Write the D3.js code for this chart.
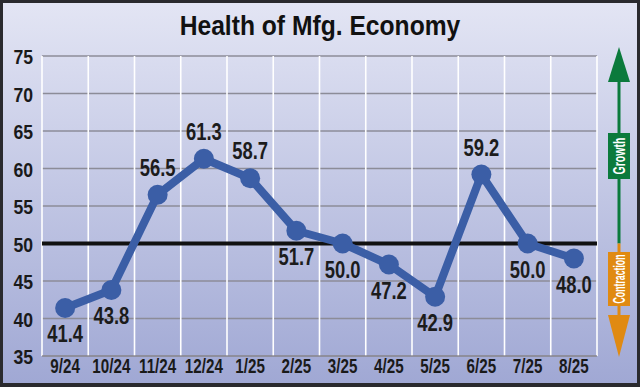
<!DOCTYPE html>
<html><head><meta charset="utf-8">
<script src="https://cdn.jsdelivr.net/npm/d3@7"></script>
<style>
body{margin:0;padding:0;overflow:hidden;}
text{font-family:"Liberation Sans",Arial,sans-serif;font-weight:bold;}
</style></head>
<body><svg id="c" width="640" height="387"></svg>
<script>
const categories = ["9/24","10/24","11/24","12/24","1/25","2/25","3/25","4/25","5/25","6/25","7/25","8/25"];
const values = [41.4,43.8,56.5,61.3,58.7,51.7,50.0,47.2,42.9,59.2,50.0,48.0];
const labelPos = ["below","below","above","above","above","below","below","below","below","above","below","below"];
const yTicks = [35,40,45,50,55,60,65,70,75];
const title = "Health of Mfg. Economy";

function condense(sel,k){
  sel.each(function(){
    const L=this.getComputedTextLength();
    this.setAttribute("textLength",(L*k).toFixed(2));
    this.setAttribute("lengthAdjust","spacingAndGlyphs");
  });
}

const svg = d3.select("#c");
const W=640,H=387;
const defs = svg.append("defs");
const g = defs.append("linearGradient").attr("id","bg").attr("x1",0).attr("y1",0).attr("x2",0).attr("y2",1);
g.append("stop").attr("offset","0%").attr("stop-color","#e3e5f4");
g.append("stop").attr("offset","100%").attr("stop-color","#a0a8d4");

svg.append("rect").attr("width",W).attr("height",H).attr("fill","#2a2a2e");
svg.append("rect").attr("x",3).attr("y",3).attr("width",W-6).attr("height",H-7).attr("fill","url(#bg)");

svg.append("text").attr("x",320).attr("y",34.5).attr("text-anchor","middle")
  .attr("font-size",28).attr("fill","#111").text(title).call(condense,0.88);

const x = d3.scaleBand().domain(categories).range([42,597]);
const y = d3.scaleLinear().domain([35,75]).range([356,56]);

// horizontal grid
svg.append("g").selectAll("line").data(yTicks).join("line")
  .attr("x1",42).attr("x2",597).attr("y1",d=>y(d)).attr("y2",d=>y(d))
  .attr("stroke","#8c8c98").attr("stroke-width",1.6);
// vertical grid
const vx = categories.map(c=>x(c)).concat([x.range()[1]]);
svg.append("g").selectAll("line").data(vx).join("line")
  .attr("x1",d=>d).attr("x2",d=>d).attr("y1",y(75)).attr("y2",y(35))
  .attr("stroke","#ffffff").attr("stroke-width",1.6);
svg.append("line").attr("x1",42).attr("x2",597).attr("y1",y(35)).attr("y2",y(35)).attr("stroke","#8c8c98").attr("stroke-width",1.6);
// 50 line
svg.append("line").attr("x1",42).attr("x2",597).attr("y1",y(50)).attr("y2",y(50)).attr("stroke","#111").attr("stroke-width",4);

// y axis
const ya = svg.append("g").attr("transform","translate(42,0)")
  .call(d3.axisLeft(y).tickValues(yTicks).tickSize(0));
ya.select(".domain").remove();
ya.selectAll("text").attr("font-size",21).attr("fill","#1a1a1a").attr("dy","0.36em").attr("x",-9).call(condense,0.84);

// x axis
const xa = svg.append("g").attr("transform","translate(0,356)")
  .call(d3.axisBottom(x).tickSize(0));
xa.select(".domain").remove();
xa.selectAll("text").attr("font-size",20).attr("fill","#1a1a1a").attr("y",17).attr("dy",0).call(condense,0.76);

const cx = (c)=>x(c)+x.bandwidth()/2;
const line = d3.line().x((d,i)=>cx(categories[i])).y(d=>y(d));
svg.append("path").datum(values).attr("d",line).attr("fill","none")
  .attr("stroke","#3b5ea6").attr("stroke-width",8).attr("stroke-linejoin","round");
svg.append("g").selectAll("circle").data(values).join("circle")
  .attr("cx",(d,i)=>cx(categories[i])).attr("cy",d=>y(d)).attr("r",10).attr("fill","#3b5ea6");

svg.append("g").selectAll("text").data(values).join("text")
  .attr("x",(d,i)=>cx(categories[i])).attr("y",(d,i)=>labelPos[i]==="above"? y(d)-19 : y(d)+34)
  .attr("text-anchor","middle").attr("font-size",23).attr("fill","#1c1c1c")
  .text(d=>d.toFixed(1)).call(condense,0.8);

// growth / contraction arrow
const ax = 619;
const green="#0b7a3c", orange="#e08a12";
svg.append("line").attr("x1",ax).attr("x2",ax).attr("y1",80).attr("y2",y(50)).attr("stroke",green).attr("stroke-width",3);
svg.append("path").attr("d",`M${ax},47 L${ax+11},82 L${ax-11},82 Z`).attr("fill",green);
svg.append("rect").attr("x",608).attr("y",133).attr("width",22).attr("height",46).attr("fill",green);
svg.append("text").attr("transform",`translate(${ax+6},156) rotate(-90)`).attr("text-anchor","middle")
  .attr("font-size",17).attr("fill","#fff").attr("textLength",37).attr("lengthAdjust","spacingAndGlyphs").text("Growth");
svg.append("line").attr("x1",ax).attr("x2",ax).attr("y1",y(50)).attr("y2",318).attr("stroke",orange).attr("stroke-width",3);
svg.append("path").attr("d",`M${ax},357 L${ax+11},315 L${ax-11},315 Z`).attr("fill",orange);
svg.append("rect").attr("x",608).attr("y",252).attr("width",22).attr("height",54).attr("fill",orange);
svg.append("text").attr("transform",`translate(${ax+6},279) rotate(-90)`).attr("text-anchor","middle")
  .attr("font-size",17).attr("fill","#fff").attr("textLength",49).attr("lengthAdjust","spacingAndGlyphs").text("Contraction");
</script></body></html>
